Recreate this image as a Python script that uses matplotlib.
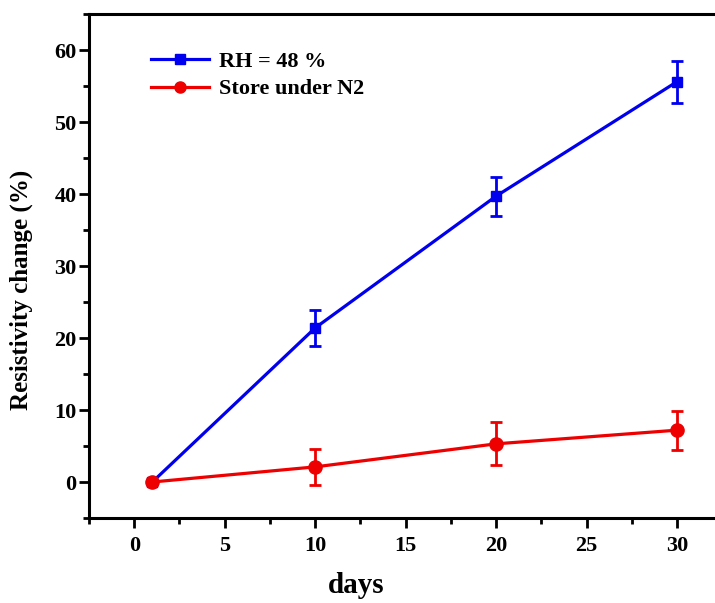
import matplotlib
matplotlib.use('Agg')
import matplotlib.pyplot as plt
from matplotlib.ticker import MultipleLocator
from matplotlib.lines import Line2D

# data
days = [1, 10, 20, 30]
rh48 = [0, 21.4, 39.7, 55.6]
rh48_err = [0, 2.5, 2.7, 2.9]
n2 = [0, 2.1, 5.3, 7.2]
n2_err = [0, 2.5, 3.0, 2.7]

plt.rcParams['font.family'] = ['Liberation Serif', 'DejaVu Serif']
plt.rcParams['font.weight'] = 'bold'

blue = '#0000ee'
red = '#ee0000'

fig = plt.figure(figsize=(7.15, 6.03), dpi=100)
ax = fig.add_axes([89/715, 1-518/603, (715-89)/715, (518-14)/603])

ax.errorbar(days, rh48, yerr=rh48_err, color=blue, marker='s', markersize=7.5,
            linewidth=2.3, capsize=4.5, capthick=2, elinewidth=2)
ax.errorbar(days, n2, yerr=n2_err, color=red, marker='o', markersize=9.5,
            linewidth=2.3, capsize=4.5, capthick=2, elinewidth=2)

ax.set_xlim(-2.5, 32.1)
ax.set_ylim(-5, 65)
ax.xaxis.set_major_locator(MultipleLocator(5))
ax.xaxis.set_minor_locator(MultipleLocator(2.5))
ax.yaxis.set_major_locator(MultipleLocator(10))
ax.yaxis.set_minor_locator(MultipleLocator(5))

for s in ['left', 'bottom', 'top']:
    ax.spines[s].set_linewidth(2.2)
ax.spines['right'].set_visible(False)
ax.tick_params(which='major', direction='out', length=7, width=2, labelsize=16)
ax.tick_params(which='minor', direction='out', length=4, width=2)
ax.tick_params(axis='x', which='major', pad=6)
ax.tick_params(axis='y', which='major', pad=2)
ax.tick_params(top=False, right=False, which='both')

ax.set_xlabel('days', fontsize=21, fontweight='bold')
ax.xaxis.set_label_coords(0.427, -0.108)
ax.set_ylabel('Resistivity change (%)', fontsize=18, fontweight='bold')
ax.yaxis.set_label_coords(-0.09, 0.452)

# legend handles drawn without error bars, like the original
handles = [Line2D([], [], color=blue, marker='s', markersize=7, linewidth=2.3),
           Line2D([], [], color=red, marker='o', markersize=8, linewidth=2.3)]
labels = ['RH = 48 %', 'Store under N2']
ax.legend(handles, labels, loc='upper left', bbox_to_anchor=(0.067, 0.965), frameon=False,
          prop={'size': 16, 'weight': 'bold'}, handlelength=2.6, handletextpad=0.45,
          labelspacing=0.3)

fig.savefig('out.png', dpi=100)
